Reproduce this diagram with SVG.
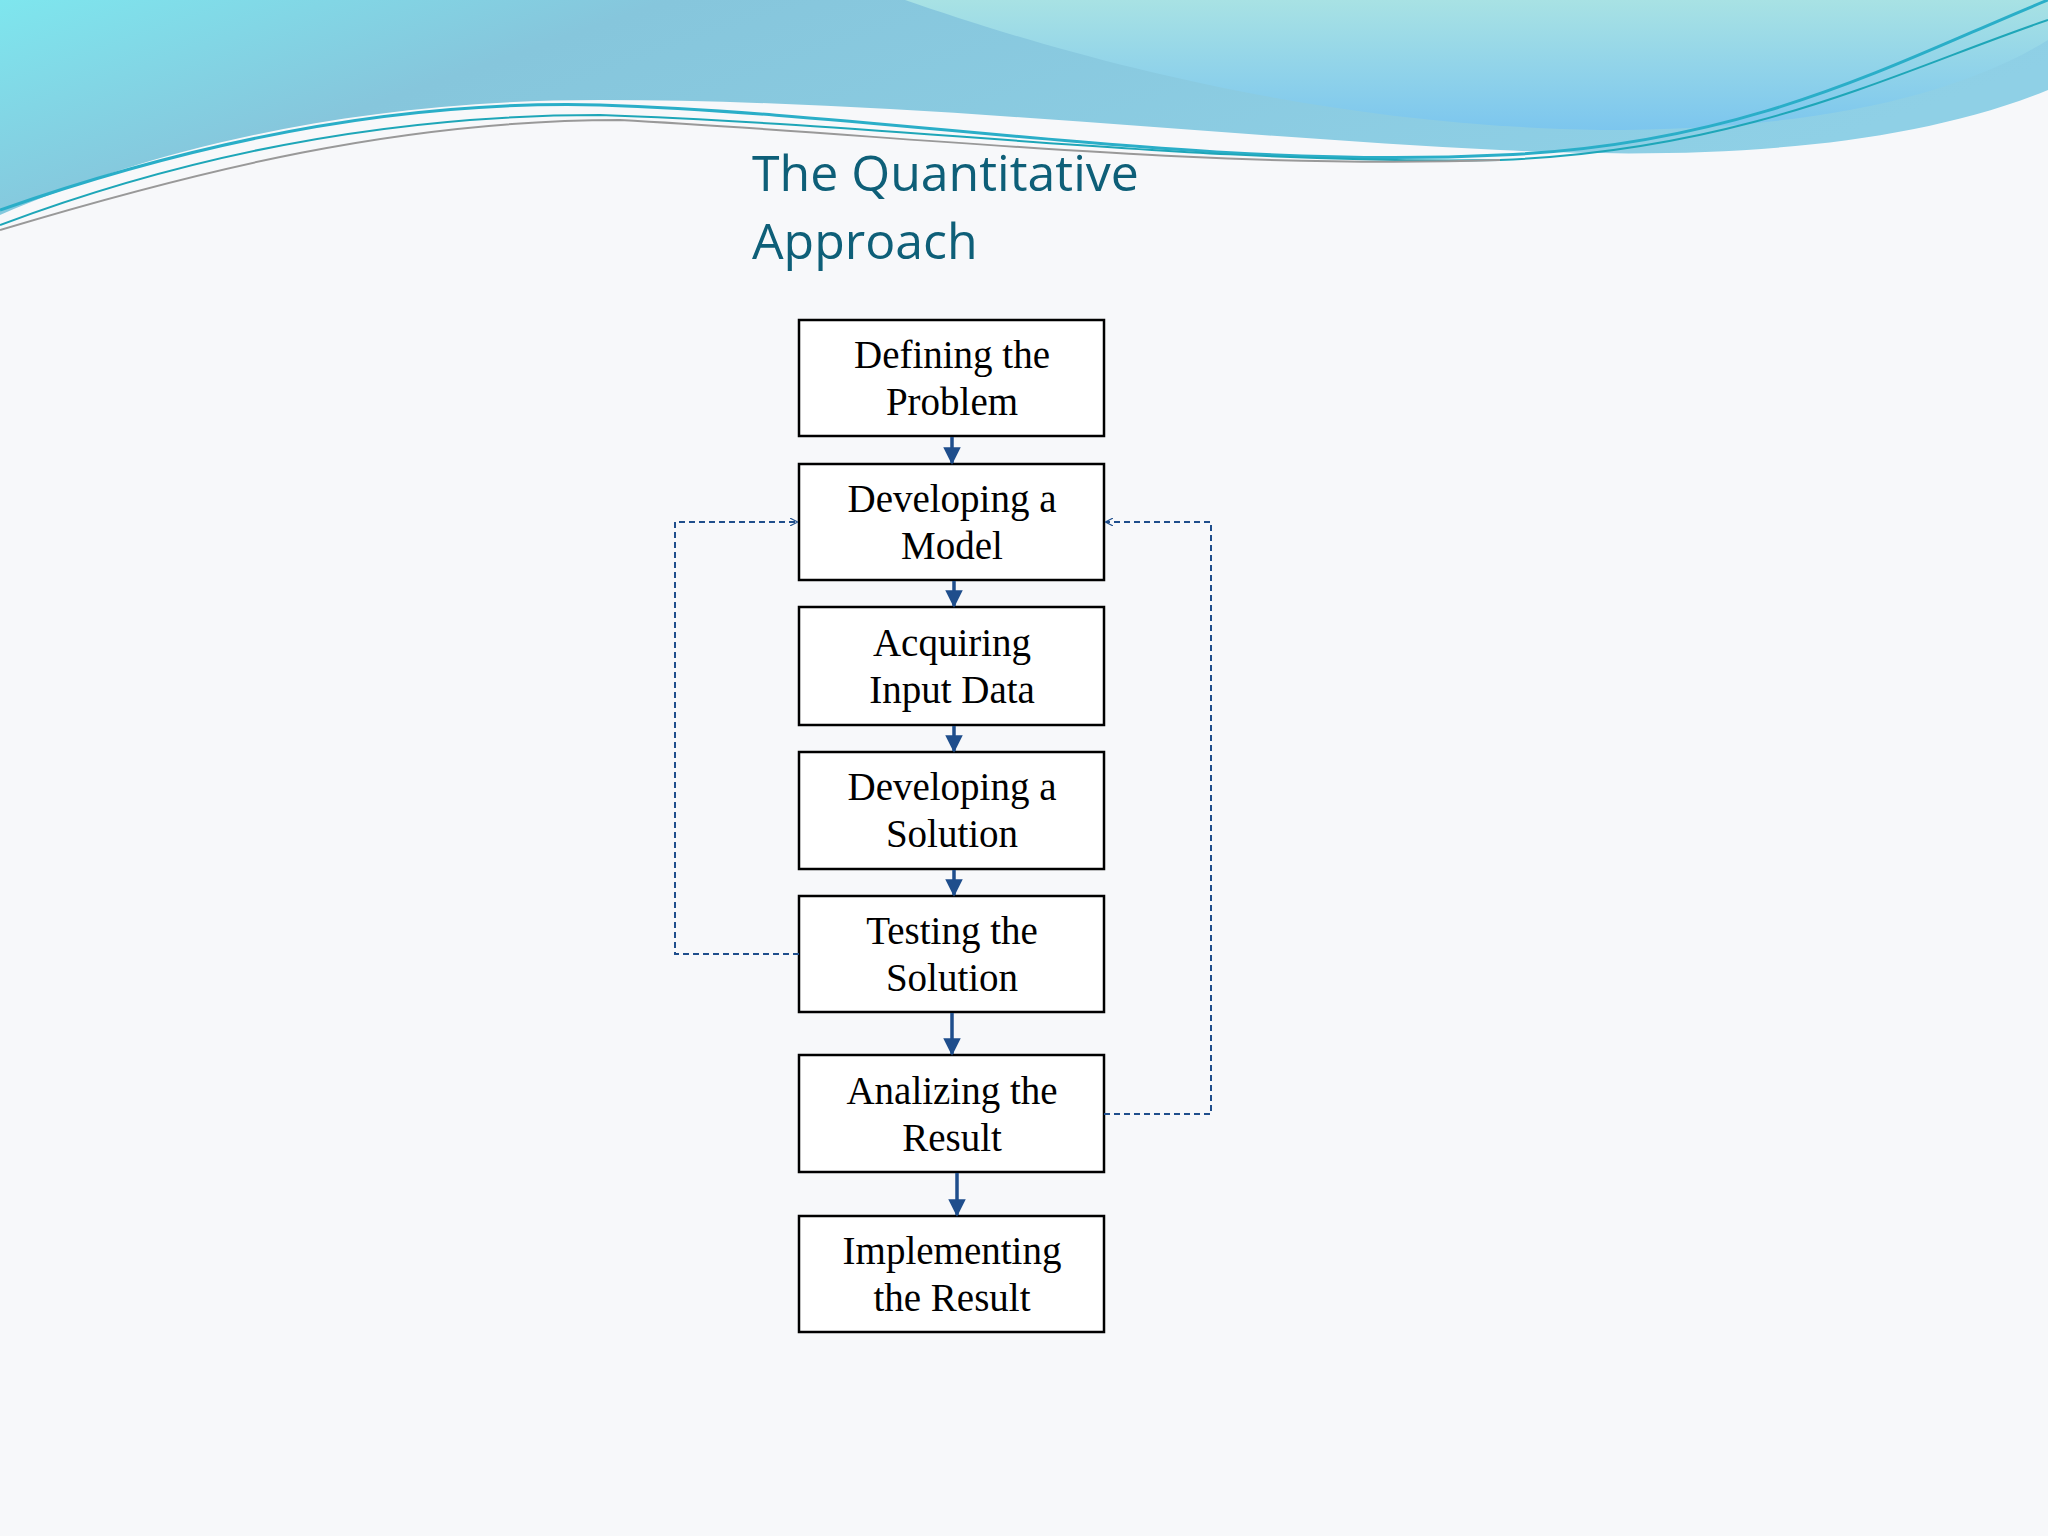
<svg xmlns="http://www.w3.org/2000/svg" width="2048" height="1536" viewBox="0 0 2048 1536">
<defs>
<linearGradient id="g1" x1="0" y1="0" x2="1" y2="0.3"><stop offset="0" stop-color="#7ee6ee"/><stop offset="0.3" stop-color="#86c6dc"/><stop offset="1" stop-color="#8fd0e6"/></linearGradient>
<linearGradient id="g2" x1="0" y1="0" x2="0" y2="1"><stop offset="0" stop-color="#a8e2e4"/><stop offset="1" stop-color="#7cc6ee"/></linearGradient>
<marker id="ah" viewBox="0 0 10 10" refX="9" refY="5" markerWidth="5" markerHeight="5" orient="auto"><path d="M0,0 L10,5 L0,10 z" fill="#1f4e8c"/></marker>
<marker id="oh" viewBox="0 0 10 10" refX="9" refY="5" markerWidth="8" markerHeight="8" orient="auto" markerUnits="userSpaceOnUse"><path d="M0,0 L10,5 L0,10" fill="none" stroke="#1f4e8c" stroke-width="1.5"/></marker>
<style>
.box{fill:#fff;stroke:#000;stroke-width:2.5}
.t{font-family:"Liberation Serif",serif;font-size:39px;fill:#000;text-anchor:middle}
.c{stroke:#1f4e8c;stroke-width:3.5;fill:none;marker-end:url(#ah)}
.d{stroke:#1f4e8c;stroke-width:2;fill:none;stroke-dasharray:6,4;marker-end:url(#oh)}
</style>
</defs>
<rect width="2048" height="1536" fill="#f7f8fa"/>
<g id="background">
<path d="M0,0 H2048 V90 C1900,150 1700,160 1500,150 C1200,135 900,100 600,100 C350,100 150,150 0,215 Z" fill="url(#g1)"/>
<path d="M905,0 H2048 V40 C1950,100 1800,130 1600,130 C1300,125 1050,50 905,0 Z" fill="url(#g2)"/>
<path d="M0,210 C200,140 400,100 600,105 C900,115 1200,170 1500,155 C1750,145 1900,60 2048,0" fill="none" stroke="#2aaec8" stroke-width="3"/>
<path d="M0,225 C200,150 400,115 600,115 C900,125 1200,165 1500,160 C1750,150 1900,70 2048,20" fill="none" stroke="#1ea6b8" stroke-width="2"/>
<path d="M0,230 C200,170 400,120 620,120 C900,135 1200,170 1500,160" fill="none" stroke="#999" stroke-width="2"/>
</g>
<g id="title"><text x="752" y="191" font-family="Open Sans, sans-serif" font-size="50" fill="#0e5f78">The Quantitative</text><text x="752" y="259" font-family="Open Sans, sans-serif" font-size="50" fill="#0e5f78">Approach</text></g>
<g id="n1"><rect class="box" x="799" y="320" width="305" height="116"/><text class="t" x="952" y="368">Defining the</text><text class="t" x="952" y="415">Problem</text></g>
<g id="n2"><rect class="box" x="799" y="464" width="305" height="116"/><text class="t" x="952" y="512">Developing a</text><text class="t" x="952" y="559">Model</text></g>
<g id="n3"><rect class="box" x="799" y="607" width="305" height="118"/><text class="t" x="952" y="656">Acquiring</text><text class="t" x="952" y="703">Input Data</text></g>
<g id="n4"><rect class="box" x="799" y="752" width="305" height="117"/><text class="t" x="952" y="800">Developing a</text><text class="t" x="952" y="847">Solution</text></g>
<g id="n5"><rect class="box" x="799" y="896" width="305" height="116"/><text class="t" x="952" y="944">Testing the</text><text class="t" x="952" y="991">Solution</text></g>
<g id="n6"><rect class="box" x="799" y="1055" width="305" height="117"/><text class="t" x="952" y="1104">Analizing the</text><text class="t" x="952" y="1151">Result</text></g>
<g id="n7"><rect class="box" x="799" y="1216" width="305" height="116"/><text class="t" x="952" y="1264">Implementing</text><text class="t" x="952" y="1311">the Result</text></g>
<g id="connectors">
<path class="c" d="M952,437 V463"/>
<path class="c" d="M954,581 V606"/>
<path class="c" d="M954,726 V751"/>
<path class="c" d="M954,870 V895"/>
<path class="c" d="M952,1013 V1054"/>
<path class="c" d="M957,1173 V1215"/>
<path class="d" d="M799,954 H675 V522 H797"/>
<path class="d" d="M1104,1114 H1211 V522 H1106"/>
</g>
</svg>
